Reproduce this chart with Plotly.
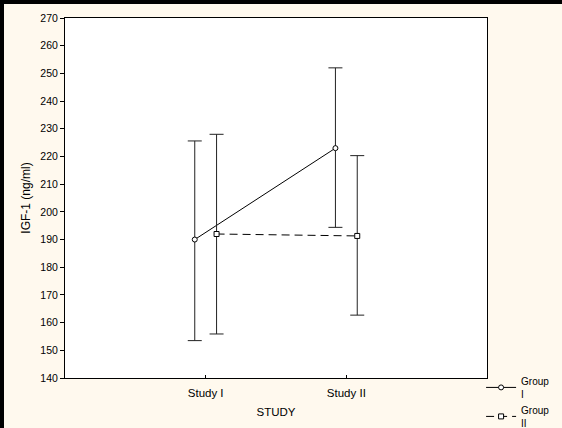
import plotly.graph_objects as go

studies = ["Study I", "Study II"]
group1_mean = [190.0, 223.0]
group1_upper = [225.6, 252.0]
group1_lower = [153.5, 194.4]
group2_mean = [192.0, 191.3]
group2_upper = [228.0, 220.3]
group2_lower = [155.9, 162.7]

W, H = 562, 428
ML, MR, MT, MB = 65, 75, 18, 50
PW, PH = W - ML - MR, H - MT - MB

FAM = "Liberation Sans, Arial, sans-serif"

fig = go.Figure()

def add_group(name, mean, upper, lower, symbol, dash):
    fig.add_trace(go.Scatter(
        x=studies, y=mean, name=name, mode="lines+markers",
        line=dict(color="black", width=1, dash=dash),
        marker=dict(symbol=symbol, size=5, color="white",
                    line=dict(color="black", width=1)),
        error_y=dict(type="data", symmetric=False,
                     array=[u - m for u, m in zip(upper, mean)],
                     arrayminus=[m - l for m, l in zip(mean, lower)],
                     color="#222222", thickness=1, width=7),
    ))

add_group("Group<br>I", group1_mean, group1_upper, group1_lower, "circle", "solid")
add_group("Group<br>II", group2_mean, group2_upper, group2_lower, "square", "8px,5px")

fig.update_layout(
    width=W, height=H,
    margin=dict(l=ML, r=MR, t=MT, b=MB, pad=0, autoexpand=False),
    paper_bgcolor="#FFF9EE",
    plot_bgcolor="white",
    font=dict(family=FAM, size=10.5, color="black"),
    scattermode="group",
    scattergap=0.69,
    showlegend=True,
    legend=dict(x=0.986, y=0.028, xanchor="left", yanchor="top",
                bgcolor="rgba(0,0,0,0)", font=dict(family=FAM, size=10),
                tracegroupgap=0, itemwidth=30),
    xaxis=dict(type="category", range=[-1, 2], showgrid=False,
               showline=True, linecolor="black", linewidth=1, mirror=True,
               ticks="inside", ticklen=3, tickcolor="black",
               ticklabelstandoff=4,
               tickfont=dict(family=FAM, size=11.5),
               title=dict(text="STUDY", standoff=10, font=dict(family=FAM, size=11.5)),
               zeroline=False),
    yaxis=dict(range=[140, 270], dtick=10, showgrid=False,
               showline=True, linecolor="black", linewidth=1, mirror=True,
               ticks="outside", ticklen=4, tickcolor="black",
               tickfont=dict(family=FAM, size=10.5),
               title=dict(text="IGF-1 (ng/ml)", standoff=7, font=dict(family=FAM, size=12)),
               zeroline=False),
    shapes=[
        dict(type="rect", xref="paper", yref="paper", layer="above",
             x0=-ML / PW, x1=(4 - ML) / PW, y0=-MB / PH, y1=1 + MT / PH,
             fillcolor="black", line=dict(width=0)),
        dict(type="rect", xref="paper", yref="paper", layer="above",
             x0=-ML / PW, x1=1 + MR / PW, y0=1 + (MT - 4) / PH, y1=1 + MT / PH,
             fillcolor="black", line=dict(width=0)),
    ],
)

fig.write_html("out.html", config={"displayModeBar": False},
               post_script="document.body.style.margin='0';document.body.style.padding='0';")
